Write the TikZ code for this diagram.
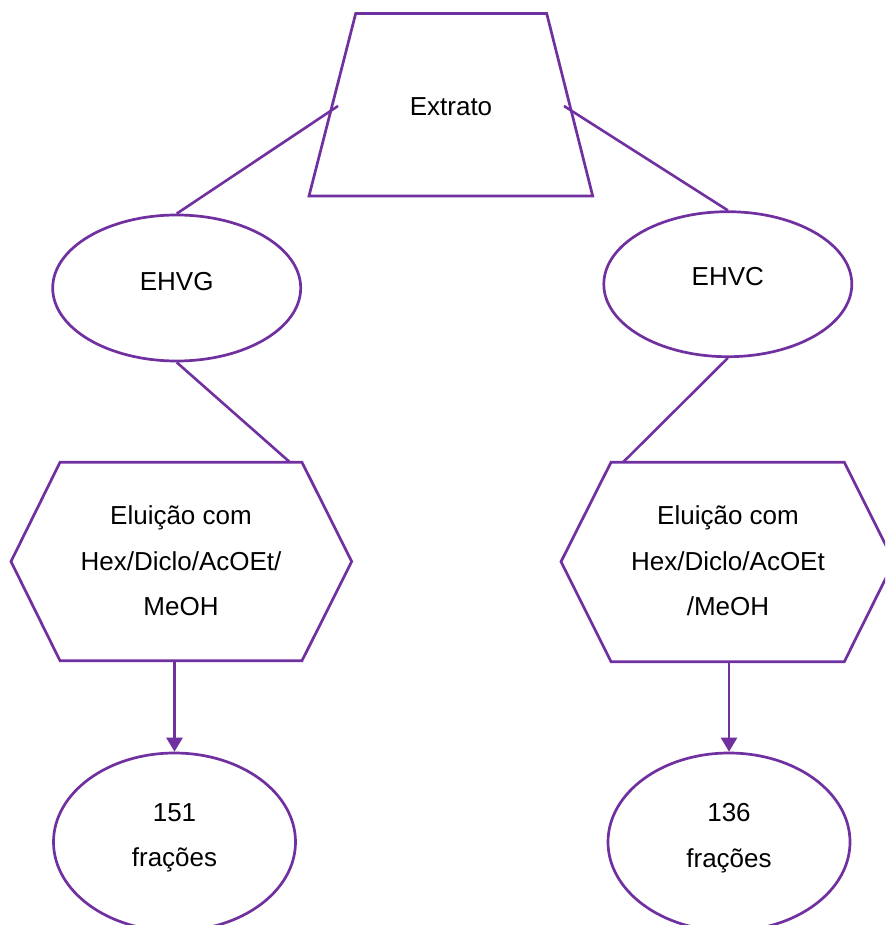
\documentclass[tikz,border=0pt]{standalone}
\usepackage{fontspec}
\setmainfont{Liberation Sans}
\usetikzlibrary{arrows.meta,shapes.geometric}
\definecolor{vio}{HTML}{7030A0}
\begin{document}
\begin{tikzpicture}[x=1pt,y=-1pt,
  shp/.style={draw=vio, line width=2.7pt, line join=miter},
  lbl/.style={font=\fontsize{26}{45.5}\selectfont, align=center, inner sep=0pt, text=black},
  ell/.style={shp, ellipse, inner sep=0pt},
  con/.style={draw=vio, line width=2.6pt},
  arr/.style={con, -{Triangle[length=14pt,width=16pt]}}]
\clip (0,0) rectangle (885,925);
\fill[white] (0,0) rectangle (885,925);

% Extrato (trapezoid)
\draw[shp] (355.7,13.5) -- (546.7,13.5) -- (592.7,196) -- (309,196) -- cycle;
\node[lbl] (extrato) at (451,107) {Extrato};
\coordinate (extL) at (338,106);
\coordinate (extR) at (564,106);

% EHVG / EHVC
\node[ell, minimum width=248pt, minimum height=146pt] (ehvg) at (176.7,288) {};
\node[lbl] (ehvgt) at (176.7,281.5) {EHVG};
\node[ell, minimum width=248pt, minimum height=145pt] (ehvc) at (727.8,284.2) {};
\node[lbl] (ehvct) at (727.8,277) {EHVC};

% left hexagon
\draw[shp] (60,462.3) -- (302,462.3) -- (351.7,561.5) -- (302,660.7) -- (60,660.7) -- (11,561.5) -- cycle;
\coordinate (h1t) at (290,462.3);
\coordinate (h1b) at (174.5,660.7);
\node[lbl] (h1) at (181,561) {Eluição com\\Hex/Diclo/AcOEt/\\MeOH};

% right hexagon
\draw[shp] (611,462.3) -- (844.3,462.3) -- (894,561.7) -- (844.3,661.7) -- (611,661.7) -- (561,561.7) -- cycle;
\coordinate (h2t) at (623,462.3);
\coordinate (h2b) at (729,661.7);
\node[lbl] (h2) at (728,561) {Eluição com\\Hex/Diclo/AcOEt\\/MeOH};

% bottom ellipses
\node[ell, minimum width=242pt, minimum height=178pt] (f1) at (174.5,842) {};
\node[lbl] (f1t) at (174.5,838) {151\\frações};
\node[ell, minimum width=242pt, minimum height=178pt] (f2) at (729,842) {};
\node[lbl] (f2t) at (729,838) {136\\frações};

% connectors
\draw[con] (extL) -- (ehvg.north);
\draw[con] (extR) -- (ehvc.north);
\draw[con] (ehvg.south) -- (h1t);
\draw[con] (ehvc.south) -- (h2t);
\draw[arr] (h1b) -- (f1.north);
\draw[arr] (h2b) -- (f2.north);
\end{tikzpicture}
\end{document}
